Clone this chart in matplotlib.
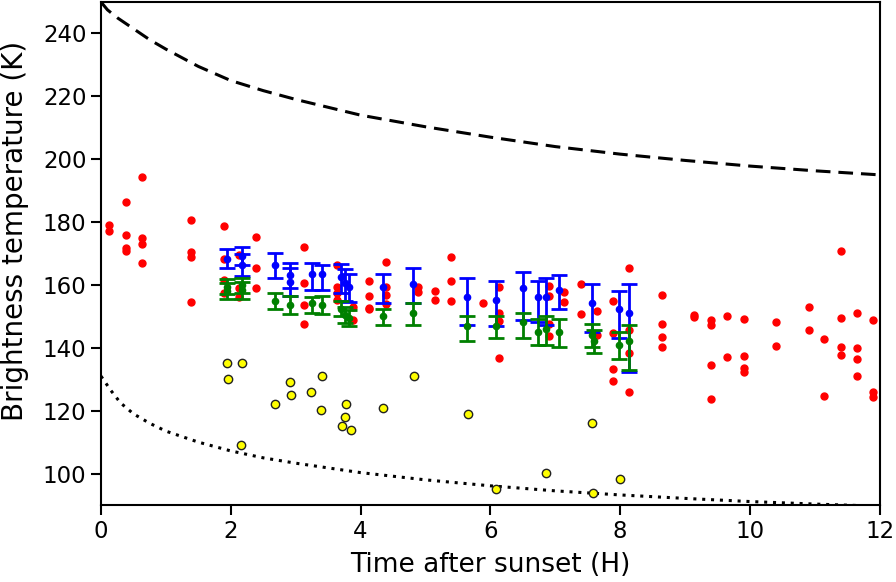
import matplotlib
matplotlib.use("Agg")
import matplotlib.pyplot as plt
import numpy as np

plt.rcParams['font.family'] = ['DejaVu Sans']

# Red measurements (time after sunset, brightness temperature)
red_t = [0.125, 0.125,
         0.385, 0.385, 0.385, 0.385,
         0.627, 0.627, 0.627, 0.627,
         1.386, 1.386, 1.386, 1.386,
         1.89, 1.89, 1.89, 1.89,
         2.13, 2.13, 2.13,
         2.39, 2.39, 2.39,
         3.127, 3.127, 3.127, 3.127,
         3.63, 3.63, 3.63, 3.63,
         3.886, 3.886,
         4.128, 4.128, 4.128, 4.128,
         4.385, 4.385, 4.385, 4.385,
         4.89, 4.89,
         5.14, 5.14,
         5.39, 5.39, 5.39,
         5.89,
         6.135, 6.135, 6.135, 6.135,
         6.905, 6.905, 6.905, 6.905,
         7.14, 7.14,
         7.39, 7.39,
         7.635, 7.635,
         7.89, 7.89, 7.89, 7.89,
         8.14, 8.14, 8.14, 8.14,
         8.636, 8.636, 8.636, 8.636,
         9.14, 9.14,
         9.396, 9.396, 9.396, 9.396,
         9.643, 9.643,
         9.905, 9.905, 9.905, 9.905,
         10.40, 10.40,
         10.906, 10.906,
         11.14, 11.14,
         11.40, 11.40, 11.40, 11.40,
         11.64, 11.64, 11.64, 11.64,
         11.90, 11.90, 11.90]
red_T = [179.1, 177.1,
         186.5, 175.8, 171.7, 170.9,
         194.3, 174.8, 173.1, 167.1,
         180.6, 170.4, 168.8, 154.6,
         178.8, 168.2, 161.5, 157.3,
         169.5, 158.9, 156.2,
         175.4, 165.5, 158.9,
         172.2, 160.5, 153.6, 147.7,
         166.3, 159.4, 157.3, 155.2,
         153.0, 148.8,
         161.3, 156.5, 152.8, 152.3,
         167.4, 159.4, 156.8, 153.9,
         159.4, 157.8,
         158.0, 155.1,
         169.0, 161.3, 154.9,
         154.3,
         159.2, 151.1, 148.6, 136.8,
         159.7, 156.4, 147.7, 143.7,
         157.8, 154.5,
         160.3, 150.9,
         151.7, 144.2,
         154.8, 144.7, 133.4, 129.6,
         165.3, 145.6, 138.4, 125.9,
         156.8, 147.7, 143.5, 140.2,
         150.4, 149.8,
         148.8, 147.4, 134.4, 123.8,
         150.2, 137.1,
         149.2, 137.5, 133.7, 132.3,
         148.3, 140.7,
         153.0, 145.6,
         142.7, 124.6,
         170.8, 149.4, 140.3, 137.8,
         151.2, 139.8, 136.4, 131.0,
         148.7, 125.9, 124.3]

# Yellow measurements
yel_t = [1.94, 2.17, 1.96, 2.16, 2.68, 2.91, 2.93, 3.24, 3.41, 3.39, 3.77,
         3.76, 3.71, 3.85, 4.34, 4.83, 5.65, 6.08, 6.86, 7.57, 7.58, 7.99]
yel_T = [135.2, 135.2, 130.1, 109.2, 122.1, 129.1, 125.1, 126.1, 131.1, 120.1, 122.1,
         118.0, 115.0, 114.0, 121.0, 131.1, 119.0, 95.0, 100.1, 116.0, 93.9, 98.2]

# Blue series with asymmetric errors
blue_t = [1.936, 2.167, 2.167, 2.68, 2.91, 2.91, 3.245, 3.40,
          3.70, 3.76, 3.82,
          4.34, 4.81, 5.64, 6.08, 6.495, 6.73, 6.85, 7.055, 7.56, 7.985, 8.14]
blue_T = [168.2, 169.2, 166.3, 166.3, 163.1, 161.0, 163.4, 163.4,
          162.5, 160.5, 159.5,
          159.4, 160.2, 156.2, 155.2, 159.1, 156.2, 156.2, 158.4, 154.1, 152.2, 151.1]
blue_lo = [2.9, 2.9, 3.5, 4.0, 4.0, 4.4, 5.0, 5.0,
           5.0, 5.5, 5.0,
           5.3, 6.1, 9.0, 8.2, 10.3, 8.1, 9.0, 6.1, 9.0, 9.1, 18.8]
blue_hi = [3.1, 2.9, 3.5, 4.0, 3.9, 4.4, 3.7, 2.9,
           4.0, 4.5, 4.0,
           4.0, 5.1, 6.1, 6.0, 5.1, 5.0, 6.1, 4.7, 6.1, 5.9, 9.1]

# Green series with asymmetric errors
green_t = [1.936, 1.936, 2.167, 2.167, 2.68, 2.91, 3.245, 3.40,
           3.70, 3.76, 3.82,
           4.34, 4.81, 5.64, 6.08, 6.495, 6.73, 6.85, 7.055, 7.56, 7.60, 7.985, 8.14]
green_T = [159.5, 158.0, 160.0, 158.4, 155.0, 153.6, 154.1, 153.6,
           152.5, 150.5, 149.5,
           150.2, 151.1, 147.0, 147.0, 148.1, 145.1, 146.1, 145.1, 144.2, 142.2, 141.0, 142.1]
green_lo = [2.5, 2.5, 2.5, 2.9, 2.7, 3.0, 3.0, 2.8,
            2.5, 2.5, 2.5,
            3.0, 3.9, 4.9, 3.9, 5.0, 4.1, 5.1, 4.8, 4.0, 4.0, 4.7, 9.3]
green_hi = [2.5, 2.5, 2.1, 2.5, 2.3, 3.0, 2.1, 2.8,
            2.5, 2.5, 2.5,
            2.0, 3.0, 3.2, 3.2, 3.0, 4.0, 4.1, 4.0, 3.4, 3.4, 4.1, 5.1]

# Model curves
dash_t = [0, 0.1, 0.25, 0.5, 0.75, 1, 1.5, 2, 2.5, 3, 4, 5, 6, 7, 8, 9, 10, 11, 12]
dash_T = [250, 247.5, 245.0, 241.5, 238.0, 235.0, 229.5, 225.0, 221.8, 219.0, 214.0,
          210.3, 207.0, 204.0, 201.6, 199.6, 197.8, 196.3, 195.0]
dot_t = [0, 0.15, 0.3, 0.5, 0.75, 1, 1.5, 2, 2.5, 3, 4, 5, 6, 7, 8, 9, 10, 11, 12]
dot_T = [131.0, 126.5, 122.5, 119.0, 116.0, 113.5, 110.0, 107.2, 105.0, 103.3, 100.3,
         98.0, 96.1, 94.5, 93.2, 92.1, 91.1, 90.3, 89.6]

fig = plt.figure(figsize=(8.96, 5.82), dpi=100)
ax = fig.add_axes([0.1127, 0.1323, 0.8693, 0.8643])

ax.plot(dash_t, dash_T, color='black', lw=2.2, linestyle=(0, (4.8, 2.6)))
ax.plot(dot_t, dot_T, color='black', lw=2.2, linestyle=(0, (1, 1.9)))

ax.plot(red_t, red_T, 'o', color='red', ms=5, mec='red', zorder=3)
ax.plot(yel_t, yel_T, 'o', color='#ffff00', ms=6, mec='#222222', mew=1.0, zorder=3)

blue_err = np.array([blue_lo, blue_hi])
green_err = np.array([green_lo, green_hi])
ax.errorbar(blue_t, blue_T, yerr=blue_err, fmt='o', color='blue', ms=4.5,
            elinewidth=2, capsize=5.5, capthick=2, zorder=4)
ax.errorbar(green_t, green_T, yerr=green_err, fmt='o', color='green', ms=4.5,
            elinewidth=2, capsize=5.5, capthick=2, zorder=5)

ax.set_xlim(0, 12)
ax.set_ylim(90, 250)
ax.set_xticks([0, 2, 4, 6, 8, 10, 12])
ax.set_yticks([100, 120, 140, 160, 180, 200, 220, 240])
ax.tick_params(direction='out', length=7, width=1.5, labelsize=16.5)
for s in ax.spines.values():
    s.set_linewidth(1.5)
ax.set_xlabel('Time after sunset (H)', fontsize=19, labelpad=7)
ax.set_ylabel('Brightness temperature (K)', fontsize=20)
ax.yaxis.set_label_coords(-0.093, 0.545)

fig.savefig('out.png', dpi=100)
